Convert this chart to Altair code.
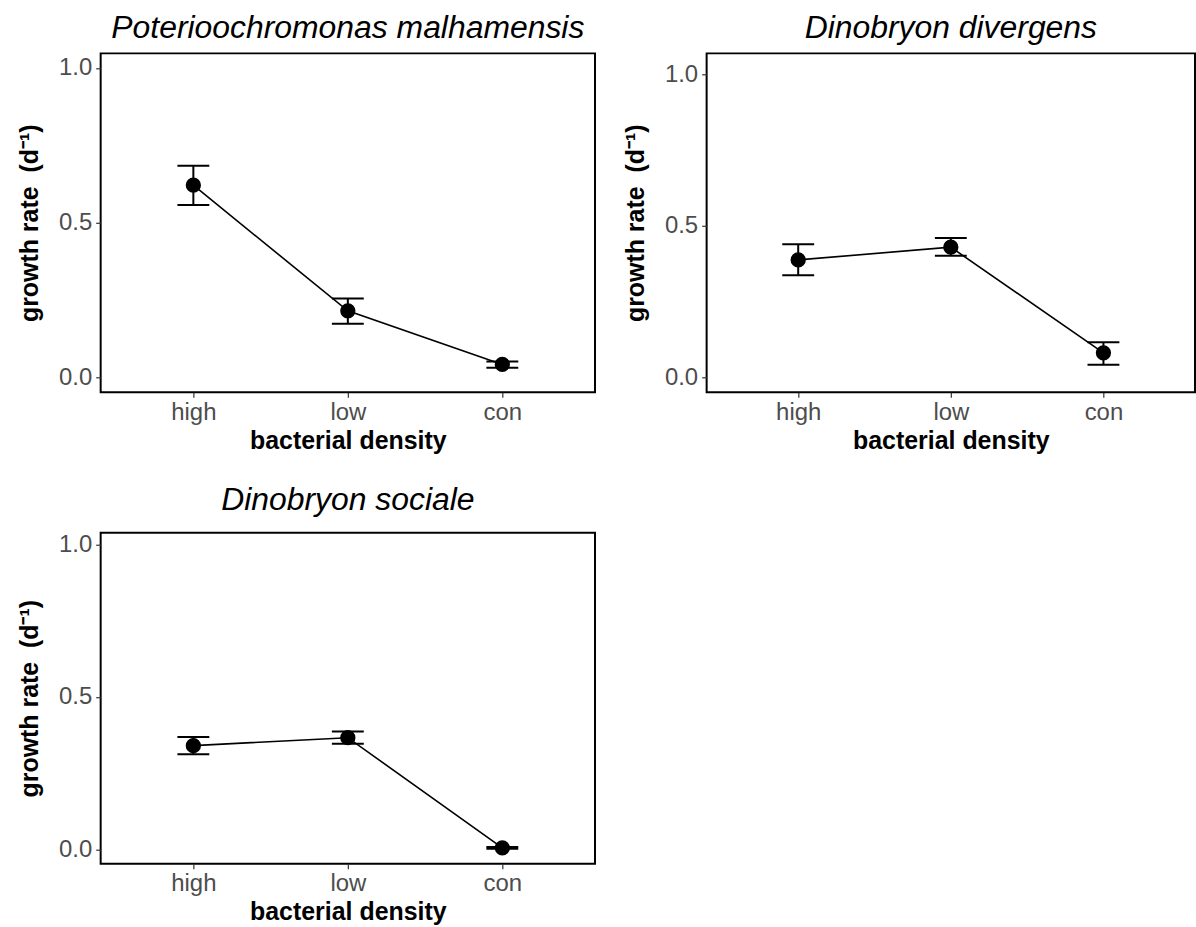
import altair as alt
import pandas as pd

categories = ["high", "low", "con"]
titles = ["Poterioochromonas malhamensis", "Dinobryon divergens", "Dinobryon sociale"]

pm_mean = [0.621, 0.215, 0.042]
pm_low = [0.557, 0.173, 0.031]
pm_high = [0.684, 0.255, 0.051]

dd_mean = [0.387, 0.429, 0.080]
dd_low = [0.336, 0.401, 0.041]
dd_high = [0.439, 0.459, 0.115]

ds_mean = [0.340, 0.366, 0.005]
ds_low = [0.312, 0.346, 0.002]
ds_high = [0.368, 0.386, 0.008]

y_ticks = [0.0, 0.5, 1.0]

FONT = "Liberation Sans"
Y_TITLE = "growth rate\u00a0 (d\u207b\u00b9)"


def panel(title, mean, low, high, width, height, title_offset, ydomain):
    df = pd.DataFrame({"density": categories, "rate": mean, "low": low, "high": high})
    base = alt.Chart(df)
    x = alt.X("density:N", sort=categories,
              scale=alt.Scale(type="point", padding=0.6),
              axis=alt.Axis(title="bacterial density", labelAngle=0, titlePadding=4))
    yscale = alt.Scale(domain=ydomain, nice=False, zero=False)
    yaxis = alt.Axis(values=y_ticks, format=".1f", title=Y_TITLE,
                     titlePadding=16, labelPadding=4)
    line = base.mark_line(color="black", strokeWidth=1.6).encode(
        x=x, y=alt.Y("rate:Q", scale=yscale, axis=yaxis))
    rule = base.mark_rule(color="black", strokeWidth=2, opacity=1).encode(
        x=x, y=alt.Y("low:Q", scale=yscale, axis=yaxis), y2="high:Q")
    cap_lo = base.mark_tick(color="black", size=32, thickness=2, opacity=1,
                            orient="horizontal").encode(
        x=x, y=alt.Y("low:Q", scale=yscale, axis=yaxis))
    cap_hi = base.mark_tick(color="black", size=32, thickness=2, opacity=1,
                            orient="horizontal").encode(
        x=x, y=alt.Y("high:Q", scale=yscale, axis=yaxis))
    pts = base.mark_circle(color="black", size=235, opacity=1).encode(
        x=x, y=alt.Y("rate:Q", scale=yscale, axis=yaxis))
    return alt.layer(line, rule, cap_lo, cap_hi, pts).properties(
        width=width, height=height,
        title=alt.TitleParams(title, offset=title_offset))


p1 = panel(titles[0], pm_mean, pm_low, pm_high, 496, 340, 8, [-0.048, 1.047])
p2 = panel(titles[1], dd_mean, dd_low, dd_high, 490, 340, 8, [-0.05, 1.069])
p3 = panel(titles[2], ds_mean, ds_low, ds_high, 496, 332, 15, [-0.047, 1.038])

chart = alt.vconcat(
    alt.hconcat(p1, p2, spacing=26),
    p3,
    spacing=29,
).configure_view(
    stroke="black", strokeWidth=2
).configure_axis(
    grid=False, domain=False,
    labelFont=FONT, labelFontSize=24, labelColor="#4d4d4d", labelPadding=3,
    tickColor="#333333", tickSize=5, tickWidth=1.2,
    titleFont=FONT, titleFontSize=25, titleFontWeight="bold", titleColor="black",
).configure_title(
    font=FONT, fontSize=32, fontStyle="italic", fontWeight="normal",
    color="black", anchor="middle", baseline="alphabetic",
).properties(
    padding={"left": 16, "top": 10, "right": 0, "bottom": 0},
    background="white",
)

chart.save("out.html", embed_options={"renderer": "svg", "actions": False})
